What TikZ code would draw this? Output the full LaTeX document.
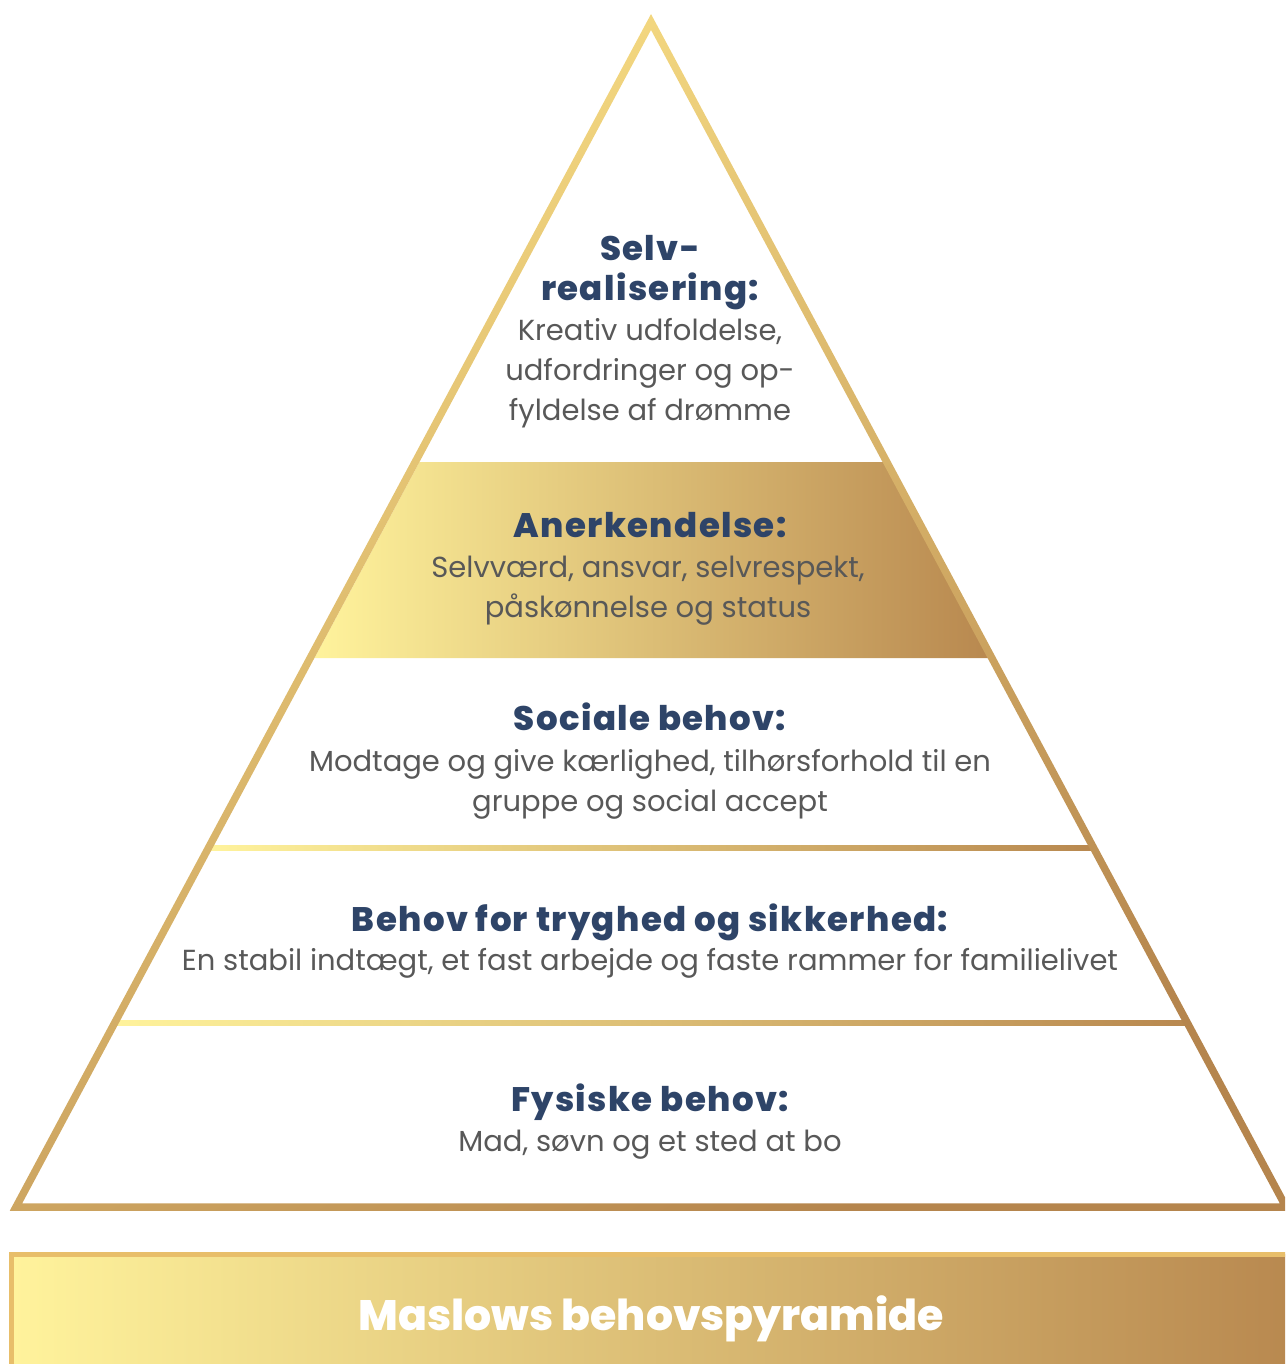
\documentclass[tikz,border=0pt]{standalone}
\usepackage{fontspec}
\setmainfont{Poppins}
\newfontfamily\heavyfont{Poppins ExtraBold}
\usepackage{pdfrender}
\definecolor{navy}{HTML}{2E4468}
\definecolor{bodygray}{HTML}{585858}
\definecolor{goldA}{HTML}{FFF39C}
\definecolor{goldB}{HTML}{E8BF6C}
\definecolor{goldC}{HTML}{B8884F}
\definecolor{edgeA}{HTML}{F8DE84}
\definecolor{edgeB}{HTML}{E6BC68}
\definecolor{edgeC}{HTML}{B5854D}
\definecolor{banneredge}{HTML}{E8BE6A}
\definecolor{titleedge}{HTML}{F0D07E}
% white lettering with a gold halo: a stroked gold copy underneath the plain white text
\newcommand{\haloed}[1]{\rlap{\color{titleedge}\textpdfrender{TextRenderingMode=FillStroke, LineWidth=5}{#1}}#1}
\begin{document}
\begin{tikzpicture}[x=1pt,y=-1pt,
  head/.style={text=navy, font=\heavyfont\addfontfeature{LetterSpace=4}\fontsize{34}{40}\selectfont, anchor=base, inner sep=0pt},
  body/.style={text=bodygray, font=\fontsize{29}{40}\selectfont, anchor=base, inner sep=0pt},
  goldfill/.style={left color=goldA, middle color=goldB, right color=goldC},
  title/.style={text=white, font=\heavyfont\fontsize{42.6}{50}\selectfont, anchor=base, inner sep=0pt}]
\clip (0,0) rectangle (1285,1364);

% highlighted level (Anerkendelse)
\shade[goldfill] (419.5,462) -- (886,462) -- (991,658) -- (314.5,658) -- cycle;

% separator lines between the lower levels
\shade[goldfill] (208,845.5) rectangle (1094,850.5);
\shade[goldfill] (114,1020.5) rectangle (1188,1025.5);

% pyramid outline as a shaded ring between outer and inner triangle
\shade[even odd rule, top color=edgeA, middle color=edgeB, bottom color=edgeC, shading angle=32]
  (651,14.07) -- (9.75,1210.75) -- (1292.25,1210.75) -- cycle
  (651,29.93) -- (22.25,1203.25) -- (1279.75,1203.25) -- cycle;

% level texts
\node[head] (h1a) at (650,260) {Selv-};
\node[head] (h1b) at (650,300) {realisering:};
\node[body] (t1a) at (650,340) {Kreativ udfoldelse,};
\node[body] (t1b) at (650,380) {udfordringer og op-};
\node[body] (t1c) at (650,420) {fyldelse af drømme};

\node[head] (h2) at (650,537) {Anerkendelse:};
\node[body] (t2a) at (648,577) {Selvværd, ansvar, selvrespekt,};
\node[body] (t2b) at (648,617) {påskønnelse og status};

\node[head] (h3) at (650,730) {Sociale behov:};
\node[body] (t3a) at (650,771) {Modtage og give kærlighed, tilhørsforhold til en};
\node[body] (t3b) at (650,811) {gruppe og social accept};

\node[head] (h4) at (650,931) {Behov for tryghed og sikkerhed:};
\node[body] (t4) at (650,970) {En stabil indtægt, et fast arbejde og faste rammer for familielivet};

\node[head] (h5) at (650,1111) {Fysiske behov:};
\node[body] (t5) at (650,1151) {Mad, søvn og et sted at bo};

% title banner
\shade[goldfill] (11.5,1254.5) rectangle (1300,1380);
\draw[banneredge, line width=5.5pt] (11.5,1380) -- (11.5,1254.5) -- (1300,1254.5);
\node[title] (title) at (651,1330) {\haloed{Maslows behovspyramide}};
\end{tikzpicture}
\end{document}
